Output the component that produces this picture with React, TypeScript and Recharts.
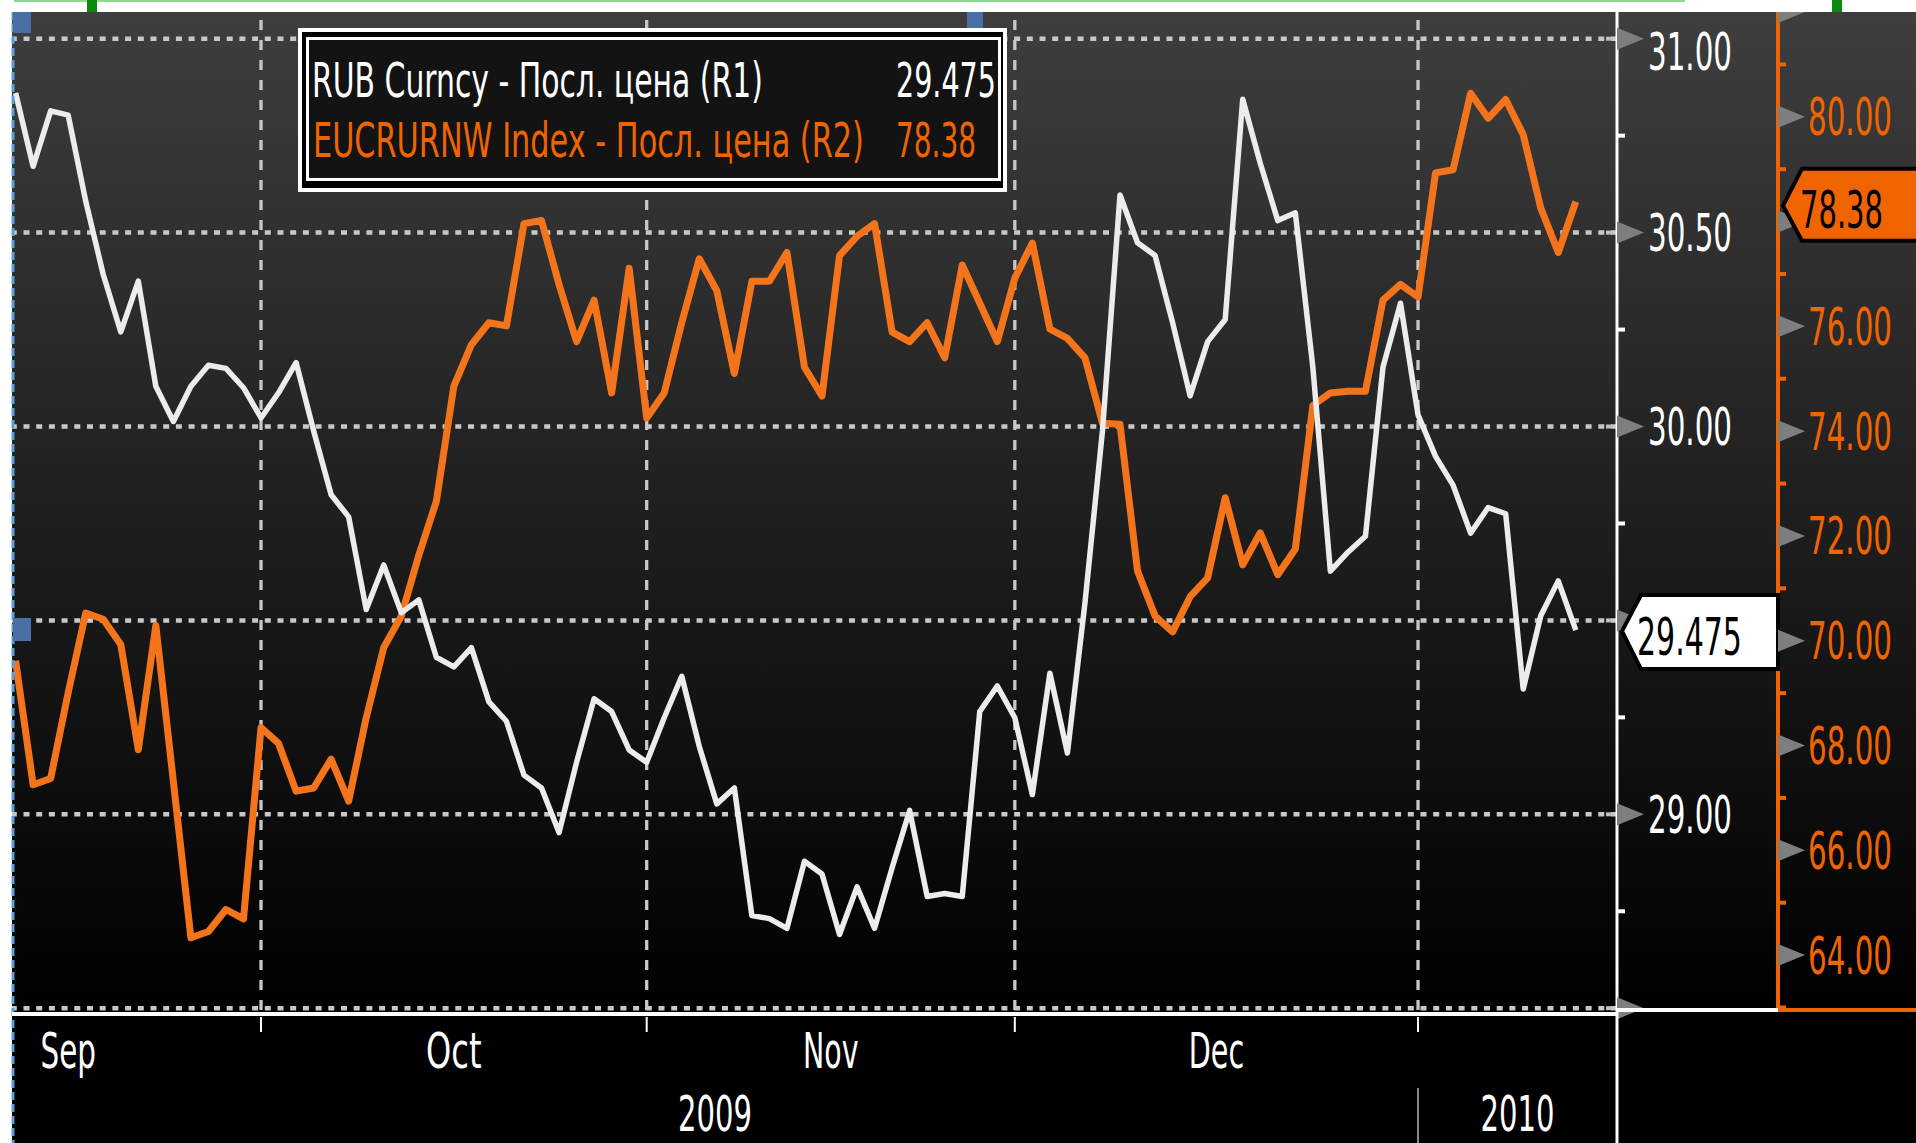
import { LineChart, Line, XAxis, YAxis, ReferenceLine } from 'recharts'

// RUB Curncy - last price (R1), one value per trading day, 11 Sep 2009 .. 14 Jan 2010
const rubPrices = [
  30.86, 30.671, 30.814, 30.803, 30.581, 30.392, 30.244, 30.375, 30.104, 30.013,
  30.104, 30.158, 30.15, 30.1, 30.022, 30.087, 30.165, 29.989, 29.824, 29.767,
  29.528, 29.643, 29.52, 29.553, 29.405, 29.38, 29.43, 29.29, 29.24, 29.101,
  29.068, 28.953, 29.134, 29.298, 29.265, 29.166, 29.134, 29.249, 29.356, 29.175,
  29.027, 29.068, 28.739, 28.731, 28.706, 28.879, 28.846, 28.69, 28.813, 28.706,
  28.862, 29.01, 28.788, 28.796, 28.788, 29.265, 29.331, 29.249, 29.051, 29.364,
  29.158, 29.545, 29.989, 30.597, 30.474, 30.441, 30.268, 30.079, 30.219, 30.276,
  30.844, 30.679, 30.531, 30.551, 30.153, 29.627, 29.676, 29.717, 30.153, 30.318,
  30.03, 29.923, 29.849, 29.725, 29.791, 29.775, 29.323, 29.512, 29.602, 29.475
]

// EUCRURNW Index - last price (R2)
const eurIndex = [
  69.62, 67.25, 67.37, 69.01, 70.53, 70.41, 69.93, 67.92, 70.29, 67.31,
  64.33, 64.45, 64.87, 64.69, 68.34, 68.04, 67.13, 67.19, 67.74, 66.94,
  68.53, 69.87, 70.47, 71.63, 72.66, 74.86, 75.65, 76.07, 76.01, 77.96,
  78.02, 76.8, 75.71, 76.5, 74.73, 77.11, 74.25, 74.73, 76.07, 77.29,
  76.68, 75.1, 76.86, 76.86, 77.41, 75.22, 74.67, 77.35, 77.72, 77.96,
  75.89, 75.71, 76.07, 75.4, 77.17, 76.44, 75.71, 76.92, 77.59, 75.95,
  75.77, 75.4, 74.15, 74.13, 71.33, 70.47, 70.17, 70.84, 71.2, 72.73,
  71.45, 72.06, 71.26, 71.75, 74.49, 74.73, 74.76, 74.76, 76.5, 76.8,
  76.56, 78.93, 78.99, 80.45, 79.97, 80.33, 79.66, 78.26, 77.41, 78.38
]

// trading-day index where each month starts (Sep 2009 .. Feb 2010)
const monthStarts = [-8, 14, 36, 57, 80, 101]
const monthNames = ['Sep', 'Oct', 'Nov', 'Dec', '']
const yearBreaks = [80]
const yearNames = ['2009', '2010']

const r1Major = [28.5, 29, 29.5, 30, 30.5, 31]
const r1Minor = [28.75, 29.25, 29.75, 30.25, 30.75]
const r2Major = [64, 66, 68, 70, 72, 74, 76, 78, 80, 82]
const r2Minor = [63, 65, 67, 69, 71, 73, 75, 77, 79, 81]

const legendNames = ['RUB Curncy - Посл. цена (R1)', 'EUCRURNW Index - Посл. цена (R2)']

const X_DOMAIN: [number, number] = [-0.205, 91.35]
const R1_DOMAIN: [number, number] = [28.4954, 31.0689]
const R2_DOMAIN: [number, number] = [62.952, 82.0]

const W = 1916
const H = 1143
const PLOT_LEFT = 12
const PLOT_TOP = 12
const PLOT_BOTTOM = 1010
const R1_W = 161
const R2_W = 138
const R1_X = W - R1_W - R2_W
const R2_X = W - R2_W

const FONT = "'Liberation Sans Narrow', 'DejaVu Sans Condensed', 'DejaVu Sans', sans-serif"
const ORANGE = '#f06400'
const LINE_ORANGE = '#f4741c'
const GRID = '#c8c8c8'

const rubLast = rubPrices[rubPrices.length - 1]
const eurLast = eurIndex[eurIndex.length - 1]

const data = rubPrices.map((rub, i) => ({ i, rub, eur: eurIndex[i] }))

// x axis ticks: month edges, month label centres, year label centres
type XInfo = { kind: 'edge' | 'month' | 'year', text?: string }
const xInfo = new Map<number, XInfo>()
monthStarts.forEach((s, k) => {
  if (s > X_DOMAIN[0] && s < X_DOMAIN[1]) xInfo.set(s, { kind: 'edge' })
  if (monthNames[k]) xInfo.set((s + monthStarts[k + 1]) / 2, { kind: 'month', text: monthNames[k] })
})
const yearEdges = [X_DOMAIN[0], ...yearBreaks, X_DOMAIN[1]]
yearNames.forEach((name, k) => {
  xInfo.set((yearEdges[k] + yearEdges[k + 1]) / 2, { kind: 'year', text: name })
})
const xTicks = Array.from(xInfo.keys())
const gridX = monthStarts.filter(s => s > X_DOMAIN[0] && s < X_DOMAIN[1])

// the terminal font is very narrow: squeeze a normal font horizontally to the wanted width
let measureCtx: CanvasRenderingContext2D | null = null
function naturalWidth (text: string, size: number) {
  if (!measureCtx) measureCtx = document.createElement('canvas').getContext('2d')
  if (!measureCtx) return 0
  measureCtx.font = `${size}px ${FONT}`
  return measureCtx.measureText(text).width
}

const Squeezed = (p: { x: number, y: number, w: number, size: number, fill: string, children: string }) => {
  const nat = naturalWidth(p.children, p.size)
  const sx = nat > 0 ? p.w / nat : 1
  return (
    <text transform={`translate(${p.x},${p.y}) scale(${sx},1)`} x={0} y={0} fontSize={p.size}
      fill={p.fill} fontFamily={FONT}>{p.children}</text>
  )
}

const renderXTick = (props: any) => {
  const { x, y, payload } = props
  const info = xInfo.get(payload.value)
  if (!info) return <g />
  if (info.kind === 'edge') {
    return (
      <g>
        <line x1={x} x2={x} y1={y + 7} y2={y + 22} stroke="#fff" strokeWidth={2} />
        {yearBreaks.includes(payload.value) &&
          <line x1={x} x2={x} y1={y + 78} y2={H} stroke="#8a8a8a" strokeWidth={2} />}
      </g>
    )
  }
  const text = info.text as string
  const w = text.length * 18.5
  return (
    <Squeezed x={x - w / 2} y={info.kind === 'month' ? y + 58 : y + 121} w={w} size={50} fill="#fff">
      {text}
    </Squeezed>
  )
}

const Arrow = ({ x, y }: { x: number, y: number }) => (
  <polygon points={`${x},${y - 11} ${x},${y + 11} ${x + 27},${y}`} fill="#7e7e7e" />
)

const renderR1Tick = (props: any) => {
  const { x, y, payload } = props
  const v = payload.value
  if (v === rubLast) {
    return (
      <g>
        <polygon
          points={`${x + 5},${y + 1} ${x + 24},${y - 35} ${x + R1_W},${y - 35} ${x + R1_W},${y + 39} ${x + 24},${y + 39}`}
          fill="#fff" stroke="#000" strokeWidth={4} />
        <Squeezed x={x + 20} y={y + 25} w={105} size={52} fill="#000">{v.toFixed(3)}</Squeezed>
      </g>
    )
  }
  if (r1Minor.includes(v)) return <rect x={x + 1} y={y - 2} width={7} height={4} fill="#fff" />
  const showLabel = v !== r1Major[0] && Math.abs(v - rubLast) > 0.1
  const base = Math.max(y + 18.5, PLOT_TOP + 58)
  return (
    <g>
      <rect x={x - 11} y={y - 2} width={6} height={4} fill="#c0c0c0" />
      <Arrow x={x} y={y} />
      {showLabel && <Squeezed x={x + 31} y={base} w={84} size={52} fill="#fff">{v.toFixed(2)}</Squeezed>}
    </g>
  )
}

const renderR2Tick = (props: any) => {
  const { x, y, payload } = props
  const v = payload.value
  if (v === eurLast) {
    return (
      <g>
        <polygon
          points={`${x + 5},${y + 4} ${x + 24},${y - 33} ${x + R2_W + 4},${y - 33} ${x + R2_W + 4},${y + 39} ${x + 24},${y + 39}`}
          fill={ORANGE} stroke="#000" strokeWidth={4} />
        <Squeezed x={x + 22} y={y + 26} w={83} size={52} fill="#000">{v.toFixed(2)}</Squeezed>
      </g>
    )
  }
  if (r2Minor.includes(v)) return <rect x={x + 1} y={y - 2} width={7} height={4} fill={ORANGE} />
  const showLabel = v !== r2Major[r2Major.length - 1] && Math.abs(v - eurLast) > 1
  return (
    <g>
      <Arrow x={x} y={y} />
      {showLabel && <Squeezed x={x + 30} y={y + 18.5} w={84} size={52} fill={ORANGE}>{v.toFixed(2)}</Squeezed>}
    </g>
  )
}

const LegendBox = () => (
  <g>
    <rect x={300} y={30} width={705} height={160} fill="#000" stroke="#fff" strokeWidth={4} />
    <rect x={307.5} y={38.5} width={692} height={141} fill="#131313" stroke="#fff" strokeWidth={3} />
    <Squeezed x={312} y={97} w={451} size={48} fill="#fff">{legendNames[0]}</Squeezed>
    <Squeezed x={896} y={97} w={100} size={48} fill="#fff">{rubLast.toFixed(3)}</Squeezed>
    <Squeezed x={313} y={157} w={551} size={48} fill={ORANGE}>{legendNames[1]}</Squeezed>
    <Squeezed x={896} y={157} w={80} size={48} fill={ORANGE}>{eurLast.toFixed(2)}</Squeezed>
  </g>
)

export default function App () {
  return (
    <div style={{ position: 'absolute', left: 0, top: 0, width: W, height: H, background: '#fff', overflow: 'hidden' }}>
      <div style={{
        position: 'absolute', left: PLOT_LEFT, top: PLOT_TOP, width: W - PLOT_LEFT, height: PLOT_BOTTOM - PLOT_TOP,
        background: 'linear-gradient(#3e3e3e, #000)'
      }} />
      <div style={{ position: 'absolute', left: PLOT_LEFT, top: PLOT_BOTTOM, width: W - PLOT_LEFT, height: H - PLOT_BOTTOM, background: '#000' }} />
      <div style={{ position: 'absolute', left: 0, top: 0 }}>
        <LineChart width={W} height={H} data={data} margin={{ top: PLOT_TOP, right: 0, bottom: 0, left: PLOT_LEFT }}>
          <XAxis dataKey="i" type="number" domain={X_DOMAIN} allowDataOverflow ticks={xTicks} interval={0}
            tick={renderXTick} tickLine={false} axisLine={false} tickSize={0} tickMargin={0} height={H - PLOT_BOTTOM} />
          <YAxis yAxisId="r1" orientation="right" type="number" domain={R1_DOMAIN} allowDataOverflow
            ticks={[...r1Major, ...r1Minor, rubLast]} interval={0} tick={renderR1Tick} tickLine={false}
            tickSize={0} tickMargin={0} axisLine={{ stroke: '#fff', strokeWidth: 3 }} width={R1_W} />
          <YAxis yAxisId="r2" orientation="right" type="number" domain={R2_DOMAIN} allowDataOverflow
            ticks={[...r2Major, ...r2Minor, eurLast]} interval={0} tick={renderR2Tick} tickLine={false}
            tickSize={0} tickMargin={0} axisLine={{ stroke: ORANGE, strokeWidth: 4 }} width={R2_W} />
          {r1Major.map(v => (
            <ReferenceLine key={'h' + v} yAxisId="r1" y={v} stroke={GRID} strokeWidth={4.5} strokeDasharray="6 6.7" />
          ))}
          {gridX.map(v => (
            <ReferenceLine key={'v' + v} yAxisId="r1" x={v} stroke={GRID} strokeWidth={3.3} strokeDasharray="10 10" />
          ))}
          <Line yAxisId="r2" dataKey="eur" type="linear" stroke={LINE_ORANGE} strokeWidth={7} dot={false}
            strokeLinejoin="round" isAnimationActive={false} />
          <Line yAxisId="r1" dataKey="rub" type="linear" stroke="#ececec" strokeWidth={5.5} dot={false}
            strokeLinejoin="round" isAnimationActive={false} />
        </LineChart>
      </div>
      <svg width={W} height={H} style={{ position: 'absolute', left: 0, top: 0, pointerEvents: 'none' }}>
        <rect x={0} y={0} width={W} height={PLOT_TOP} fill="#fff" />
        <rect x={14} y={0} width={1671} height={2} fill="#8fd88f" />
        <rect x={87} y={0} width={10} height={PLOT_TOP} fill="#0a8a0a" />
        <rect x={1832} y={0} width={10} height={PLOT_TOP} fill="#0a8a0a" />
        <line x1={13} x2={13} y1={PLOT_TOP} y2={H} stroke="#5b9be0" strokeWidth={3} strokeDasharray="8 4" />
        <rect x={13} y={PLOT_TOP} width={18} height={21} fill="#4a6fa5" />
        <rect x={13} y={618} width={18} height={23} fill="#4a6fa5" />
        <rect x={967} y={PLOT_TOP} width={16} height={22} fill="#4a6fa5" />
        <line x1={PLOT_LEFT} x2={R1_X} y1={PLOT_BOTTOM + 4} y2={PLOT_BOTTOM + 4} stroke="#fff" strokeWidth={4} />
        <line x1={R1_X} x2={R2_X} y1={PLOT_BOTTOM} y2={PLOT_BOTTOM} stroke="#fff" strokeWidth={4} />
        <line x1={R2_X} x2={W} y1={PLOT_BOTTOM} y2={PLOT_BOTTOM} stroke={ORANGE} strokeWidth={4} />
        <line x1={R1_X} x2={R1_X} y1={PLOT_BOTTOM} y2={H} stroke="#fff" strokeWidth={3} />
        <LegendBox />
      </svg>
    </div>
  )
}
